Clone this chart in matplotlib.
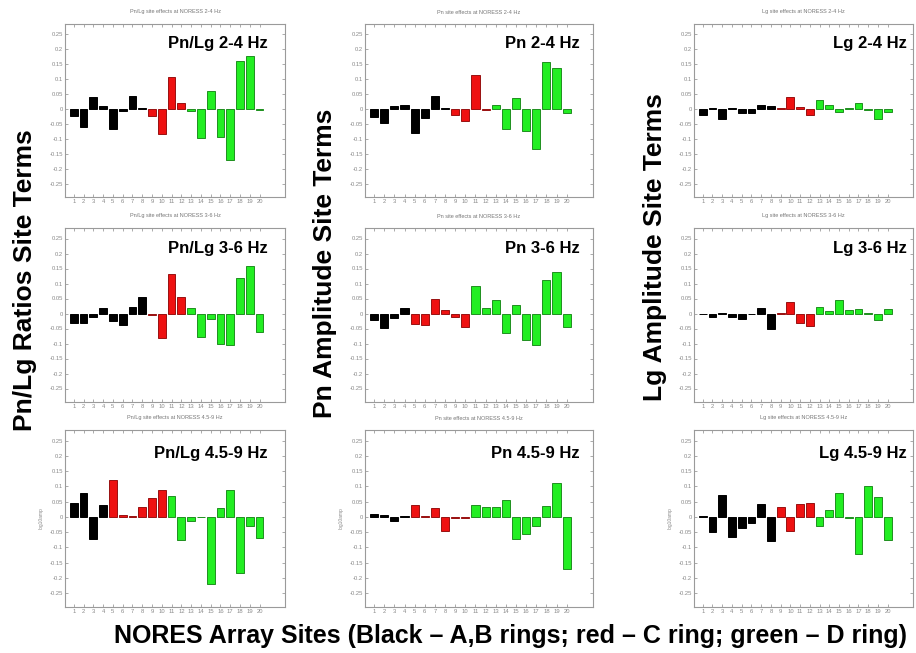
import numpy as np
import matplotlib
matplotlib.use("Agg")
import matplotlib.pyplot as plt

plt.rcParams['font.family'] = ['Liberation Sans', 'DejaVu Sans']

sites = list(range(1, 21))
site_tick_labels = [str(s) for s in sites]
y_ticks = [-0.25, -0.2, -0.15, -0.1, -0.05, 0, 0.05, 0.1, 0.15, 0.2, 0.25]
y_tick_labels = ['-0.25', '-0.2', '-0.15', '-0.1', '-0.05', '0', '0.05', '0.1', '0.15', '0.2', '0.25']

# Site terms (log10 amplitude)
pnlg_2_4 = [-0.022, -0.060, 0.040, 0.010, -0.068, -0.008, 0.042, 0.004, -0.025, -0.083,
            0.107, 0.020, -0.006, -0.098, 0.062, -0.093, -0.170, 0.160, 0.177, -0.004]
pn_2_4 = [-0.027, -0.048, 0.010, 0.015, -0.082, -0.030, 0.045, 0.003, -0.020, -0.040,
          0.113, -0.003, 0.012, -0.067, 0.038, -0.075, -0.135, 0.158, 0.137, -0.015]
lg_2_4 = [-0.020, 0.003, -0.032, 0.004, -0.013, -0.015, 0.013, 0.010, 0.002, 0.040,
          0.008, -0.020, 0.030, 0.012, -0.010, 0.003, 0.020, -0.003, -0.032, -0.010]
pnlg_3_6 = [-0.030, -0.033, -0.010, 0.020, -0.025, -0.037, 0.022, 0.055, -0.006, -0.083,
            0.132, 0.055, 0.020, -0.078, -0.018, -0.103, -0.105, 0.118, 0.158, -0.060]
pn_3_6 = [-0.022, -0.048, -0.015, 0.018, -0.035, -0.037, 0.047, 0.012, -0.012, -0.045,
          0.092, 0.018, 0.045, -0.065, 0.030, -0.087, -0.105, 0.113, 0.137, -0.045]
lg_3_6 = [-0.001, -0.010, 0.002, -0.010, -0.018, -0.001, 0.017, -0.050, 0.002, 0.040,
          -0.033, -0.040, 0.023, 0.008, 0.045, 0.012, 0.015, 0.002, -0.020, 0.015]
pnlg_45_9 = [0.045, 0.080, -0.073, 0.040, 0.120, 0.008, 0.002, 0.033, 0.062, 0.090,
             0.068, -0.075, -0.012, -0.001, -0.220, 0.030, 0.088, -0.183, -0.030, -0.070]
pn_45_9 = [0.010, 0.005, -0.013, 0.002, 0.038, 0.002, 0.030, -0.047, -0.005, -0.005,
           0.040, 0.033, 0.032, 0.055, -0.072, -0.055, -0.030, 0.037, 0.112, -0.170]
lg_45_9 = [0.003, -0.048, 0.072, -0.065, -0.037, -0.020, 0.043, -0.080, 0.033, -0.045,
           0.043, 0.047, -0.028, 0.023, 0.078, -0.003, -0.122, 0.100, 0.065, -0.075]

# ring group of each bar: k = A,B rings, r = C ring, g = D ring
rings_std = "kkkkkkkkrrrrgggggggg"
rings_alt = "kkkkrrrrrrgggggggggg"

panel_titles = [
    "Pn/Lg site effects at NORESS 2-4 Hz", "Pn site effects at NORESS 2-4 Hz", "Lg site effects at NORESS 2-4 Hz",
    "Pn/Lg site effects at NORESS 3-6 Hz", "Pn site effects at NORESS 3-6 Hz", "Lg site effects at NORESS 3-6 Hz",
    "Pn/Lg site effects at NORESS 4.5-9 Hz", "Pn site effects at NORESS 4.5-9 Hz", "Lg site effects at NORESS 4.5-9 Hz",
]
panel_labels = [
    "Pn/Lg 2-4 Hz", "Pn 2-4 Hz", "Lg 2-4 Hz",
    "Pn/Lg 3-6 Hz", "Pn 3-6 Hz", "Lg 3-6 Hz",
    "Pn/Lg 4.5-9 Hz", "Pn 4.5-9 Hz", "Lg 4.5-9 Hz",
]
panel_values = [pnlg_2_4, pn_2_4, lg_2_4, pnlg_3_6, pn_3_6, lg_3_6, pnlg_45_9, pn_45_9, lg_45_9]
panel_rings = [rings_std, rings_std, rings_std, rings_std, rings_alt, rings_std, rings_alt, rings_alt, rings_std]

row_labels = ["Pn/Lg Ratios Site Terms", "Pn Amplitude Site Terms", "Lg Amplitude Site Terms"]
x_label = "NORES Array Sites (Black \u2013 A,B rings; red \u2013 C ring; green \u2013 D ring)"

fill = {'k': '#000000', 'r': '#ee1111', 'g': '#22ee22'}
edge = {'k': '#000000', 'r': '#991111', 'g': '#1f8f1f'}

W, H = 916, 653
fig = plt.figure(figsize=(W / 100, H / 100), dpi=100)
fig.patch.set_facecolor('white')

cols = [(65, 285), (365, 593), (694, 913)]
rows = [(24, 197), (228, 402), (430, 607)]
label_x = [0.923, 0.943, 0.973]
label_y = [0.89, 0.885, 0.867]


def rect(l, r, t, b):
    return [l / W, 1 - b / H, (r - l) / W, (b - t) / H]


gray = '#8a8a8a'
for i in range(9):
    ri, ci = divmod(i, 3)
    l, r = cols[ci]
    t, b = rows[ri]
    ax = fig.add_axes(rect(l, r, t, b))
    vals = panel_values[i]
    rg = panel_rings[i]
    ax.bar(sites, vals, width=0.8,
           color=[fill[c] for c in rg], edgecolor=[edge[c] for c in rg], linewidth=0.7)
    ax.set_xlim(0.1, 22.6)
    ax.set_ylim(-0.295, 0.285)
    ax.set_xticks(sites)
    ax.set_xticklabels(site_tick_labels)
    ax.set_yticks(y_ticks)
    ax.set_yticklabels(y_tick_labels)
    ax.tick_params(direction='in', length=2.2, width=0.5, labelsize=4.2, colors=gray,
                   top=True, right=True, pad=1.5)
    for s in ax.spines.values():
        s.set_color('#9a9a9a')
        s.set_linewidth(0.8)
    h = b - t
    ax.text(0.5, 1 + 12 / h, panel_titles[i], transform=ax.transAxes, ha='center', va='center',
            fontsize=4, color='#777777')
    ax.text(label_x[ci], label_y[ri], panel_labels[i], transform=ax.transAxes, ha='right', va='center',
            fontsize=12, fontweight='bold', color='black')
    if ri == 2:
        ax.set_ylabel('log10amp', fontsize=3.5, color='#888888', labelpad=4)

fig.text(25 / W, 1 - 280 / H, row_labels[0], rotation=90, ha='center', va='center',
         fontsize=19, fontweight='bold')
fig.text(325 / W, 1 - 263 / H, row_labels[1], rotation=90, ha='center', va='center',
         fontsize=19, fontweight='bold')
fig.text(655 / W, 1 - 247 / H, row_labels[2], rotation=90, ha='center', va='center',
         fontsize=19, fontweight='bold')
fig.text(511 / W, 1 - 636 / H, x_label, ha='center', va='center', fontsize=18, fontweight='bold')

fig.savefig('out.png', dpi=100, facecolor='white')
